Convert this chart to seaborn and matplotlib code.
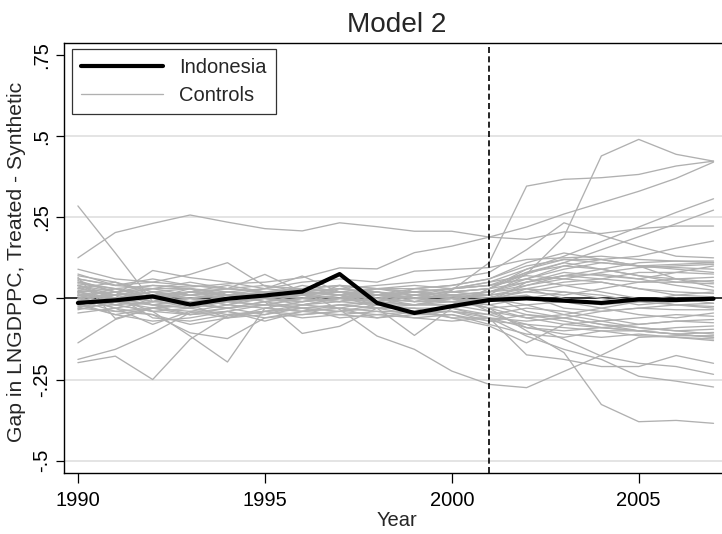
import numpy as np
import pandas as pd
import matplotlib
matplotlib.use("Agg")
import matplotlib.pyplot as plt
from matplotlib.lines import Line2D
import seaborn as sns

years = list(range(1990, 2008))

indonesia = [-0.014, -0.006, 0.006, -0.019, -0.001, 0.009, 0.021, 0.075, -0.014,
             -0.045, -0.024, -0.005, 0.000, -0.007, -0.014, -0.003, -0.005, -0.001]

c01 = [0.125, 0.203, 0.231, 0.257, 0.235, 0.215, 0.208, 0.233, 0.221, 0.207, 0.207, 0.189, 0.182, 0.205, 0.200, 0.215, 0.223, 0.223]
c02 = [0.285, 0.140, -0.010, 0.020, 0.010, 0.000, 0.015, 0.020, 0.000, -0.010, 0.000, 0.020, 0.030, 0.000, -0.020, -0.010, 0.000, -0.015]
c03 = [0.050, 0.030, 0.040, 0.035, 0.045, 0.050, 0.064, 0.094, 0.091, 0.141, 0.161, 0.189, 0.220, 0.260, 0.295, 0.330, 0.370, 0.420]
c04 = [0.020, 0.000, -0.020, -0.010, 0.000, 0.010, 0.000, 0.020, 0.010, 0.000, 0.005, 0.010, 0.075, 0.190, 0.439, 0.490, 0.444, 0.423]
c05 = [0.000, -0.020, 0.010, 0.000, -0.010, 0.000, 0.010, 0.000, 0.020, 0.000, 0.025, 0.110, 0.346, 0.367, 0.372, 0.382, 0.408, 0.423]
c06 = [0.030, 0.010, 0.020, 0.000, 0.020, 0.030, 0.050, 0.060, 0.050, 0.084, 0.089, 0.095, 0.120, 0.125, 0.130, 0.120, 0.115, 0.110]
c07 = [0.010, 0.020, 0.000, 0.010, 0.020, 0.010, 0.030, 0.020, 0.010, 0.020, 0.030, 0.050, 0.090, 0.130, 0.175, 0.220, 0.265, 0.307]
c08 = [-0.010, 0.000, 0.020, 0.000, 0.010, 0.020, 0.000, 0.010, 0.030, 0.010, 0.020, 0.030, 0.075, 0.110, 0.150, 0.190, 0.230, 0.272]
c09 = [0.040, 0.020, 0.030, 0.050, 0.030, 0.020, 0.030, 0.040, 0.030, 0.030, 0.040, 0.060, 0.100, 0.120, 0.120, 0.130, 0.155, 0.177]
c10 = [0.060, 0.040, 0.060, 0.040, 0.030, 0.040, 0.020, 0.030, 0.040, 0.050, 0.060, 0.080, 0.150, 0.233, 0.195, 0.160, 0.130, 0.125]
c11 = [-0.188, -0.157, -0.106, -0.044, -0.030, -0.010, 0.000, -0.010, 0.010, 0.000, -0.010, 0.000, 0.040, 0.070, 0.090, 0.110, 0.115, 0.115]
c12 = [-0.198, -0.178, -0.250, -0.126, -0.054, -0.040, -0.020, 0.000, -0.010, 0.010, 0.020, 0.030, 0.090, 0.120, 0.110, 0.100, 0.105, 0.110]
c13 = [-0.137, -0.065, -0.030, -0.020, 0.000, 0.020, 0.010, 0.020, 0.000, 0.020, 0.030, 0.050, 0.070, 0.060, 0.080, 0.095, 0.100, 0.105]
c14 = [0.010, -0.020, -0.040, -0.116, -0.196, -0.030, -0.010, 0.000, -0.020, 0.000, 0.010, 0.020, 0.060, 0.090, 0.110, 0.100, 0.095, 0.090]
c15 = [0.000, -0.030, -0.050, -0.106, -0.124, -0.060, -0.040, -0.030, -0.010, -0.020, 0.000, 0.010, 0.030, 0.050, 0.060, 0.080, 0.080, 0.075]
c16 = [0.020, 0.000, -0.020, 0.000, 0.010, -0.010, -0.108, -0.086, -0.030, -0.020, 0.000, 0.010, 0.020, 0.010, 0.030, 0.050, 0.060, 0.065]
c17 = [0.000, 0.010, -0.010, 0.000, -0.020, 0.000, -0.010, 0.010, -0.030, -0.114, -0.030, -0.010, 0.050, 0.070, 0.060, 0.050, 0.050, 0.055]
c18 = [-0.010, 0.000, 0.010, -0.010, 0.000, 0.010, 0.020, -0.034, -0.116, -0.157, -0.224, -0.265, -0.275, -0.225, -0.175, -0.120, -0.115, -0.115]
c19 = [0.060, 0.040, 0.050, 0.074, 0.110, 0.038, 0.030, 0.040, 0.030, 0.040, 0.030, 0.040, 0.080, 0.110, 0.090, 0.070, 0.050, 0.045]
c20 = [0.040, 0.010, 0.086, 0.064, 0.050, 0.030, 0.069, 0.020, 0.030, 0.020, 0.030, 0.040, 0.060, 0.100, 0.120, 0.100, 0.060, 0.035]
c21 = [0.030, 0.050, 0.020, 0.010, 0.030, 0.074, 0.020, 0.030, 0.010, 0.030, 0.020, 0.030, 0.050, 0.070, 0.075, 0.060, 0.040, 0.025]
c22 = [0.070, 0.050, 0.010, 0.020, 0.000, 0.010, 0.020, 0.010, 0.020, 0.000, 0.010, 0.020, 0.040, 0.060, 0.050, 0.030, 0.020, 0.015]
c23 = [0.090, 0.060, 0.050, 0.040, 0.030, 0.020, 0.010, 0.020, 0.010, 0.000, 0.010, 0.000, 0.020, 0.040, 0.050, 0.030, 0.010, 0.005]
c24 = [0.075, 0.040, 0.030, 0.030, 0.020, 0.010, 0.020, 0.010, 0.000, 0.010, 0.000, -0.010, 0.030, 0.020, 0.000, -0.020, -0.010, -0.005]
c25 = [0.065, -0.062, -0.030, -0.020, -0.010, 0.000, -0.010, 0.000, 0.010, 0.000, 0.010, 0.000, 0.010, -0.030, -0.040, -0.030, -0.020, -0.015]
c26 = [0.055, 0.020, -0.020, -0.030, -0.010, -0.020, 0.000, -0.010, 0.000, -0.010, -0.010, -0.020, 0.000, 0.020, 0.010, -0.010, -0.020, -0.025]
c27 = [0.045, 0.030, 0.000, 0.020, 0.010, 0.000, -0.010, 0.000, -0.010, 0.010, 0.000, -0.020, -0.050, -0.060, -0.040, -0.030, -0.035, -0.035]
c28 = [0.035, 0.000, -0.040, -0.050, -0.040, -0.020, -0.020, -0.010, -0.020, -0.020, -0.010, -0.030, -0.020, -0.010, -0.030, -0.050, -0.060, -0.045]
c29 = [0.025, 0.010, -0.060, -0.070, -0.050, -0.040, -0.030, -0.020, -0.010, -0.020, -0.020, -0.040, -0.060, -0.080, -0.070, -0.060, -0.050, -0.055]
c30 = [0.015, -0.010, -0.030, -0.010, -0.030, -0.050, -0.030, -0.020, -0.030, -0.030, -0.030, -0.050, -0.030, -0.040, -0.060, -0.080, -0.070, -0.065]
c31 = [0.005, -0.030, -0.080, -0.040, -0.060, -0.030, -0.040, -0.030, -0.040, -0.040, -0.040, -0.060, -0.090, -0.100, -0.090, -0.080, -0.070, -0.075]
c32 = [-0.005, -0.040, -0.050, -0.080, -0.060, -0.040, -0.050, -0.040, -0.030, -0.050, -0.050, -0.070, -0.050, -0.070, -0.090, -0.100, -0.090, -0.085]
c33 = [-0.015, -0.050, -0.070, -0.060, -0.040, -0.070, -0.040, -0.050, -0.060, -0.040, -0.030, -0.060, -0.070, -0.060, -0.080, -0.090, -0.100, -0.095]
c34 = [-0.025, -0.020, -0.040, -0.030, -0.050, -0.040, -0.060, -0.050, -0.040, -0.060, -0.050, -0.080, -0.110, -0.120, -0.100, -0.100, -0.110, -0.105]
c35 = [-0.035, -0.010, -0.020, -0.050, -0.030, -0.020, -0.030, -0.060, -0.050, -0.040, -0.060, -0.085, -0.137, -0.080, -0.090, -0.100, -0.110, -0.120]
c36 = [-0.045, -0.030, -0.010, -0.020, -0.060, -0.050, -0.020, -0.030, -0.060, -0.050, -0.040, -0.070, -0.080, -0.090, -0.100, -0.115, -0.120, -0.125]
c37 = [-0.030, -0.040, -0.030, -0.040, -0.020, -0.030, -0.040, -0.020, -0.030, -0.030, -0.060, -0.060, -0.174, -0.188, -0.210, -0.210, -0.176, -0.200]
c38 = [0.020, -0.010, 0.000, -0.020, -0.030, -0.010, -0.030, -0.040, -0.020, -0.040, -0.040, -0.050, -0.080, -0.126, -0.178, -0.200, -0.210, -0.234]
c39 = [-0.020, -0.050, -0.030, -0.050, -0.040, -0.060, -0.050, -0.040, -0.050, -0.060, -0.070, -0.060, -0.116, -0.157, -0.188, -0.240, -0.255, -0.273]
c40 = [0.010, 0.000, 0.020, 0.030, 0.010, 0.000, 0.010, 0.000, 0.010, 0.020, 0.000, -0.030, -0.100, -0.167, -0.327, -0.380, -0.376, -0.385]
c41 = [0.020, 0.030, 0.010, 0.020, 0.030, 0.020, 0.010, 0.000, 0.010, 0.020, 0.010, 0.020, 0.050, 0.080, 0.070, 0.060, 0.080, 0.100]
c42 = [-0.020, 0.010, 0.030, 0.010, 0.000, 0.020, 0.030, 0.020, 0.010, 0.000, -0.010, 0.000, -0.020, -0.050, -0.070, -0.090, -0.100, -0.110]
c43 = [0.010, -0.020, -0.010, 0.020, 0.040, 0.020, 0.000, -0.010, 0.020, 0.010, 0.030, 0.040, 0.060, 0.040, 0.020, 0.000, -0.020, -0.030]
c44 = [-0.010, 0.020, 0.040, 0.030, 0.010, -0.010, 0.010, 0.030, 0.020, -0.010, 0.020, 0.010, -0.040, -0.060, -0.080, -0.100, -0.110, -0.120]
c45 = [0.040, 0.000, 0.020, -0.020, 0.010, 0.030, 0.020, 0.010, -0.020, 0.010, 0.000, -0.030, -0.060, -0.050, -0.030, -0.010, 0.010, 0.020]
c46 = [0.000, 0.030, 0.000, 0.030, -0.010, -0.020, 0.000, 0.040, 0.000, -0.020, -0.020, 0.030, 0.080, 0.100, 0.090, 0.070, 0.060, 0.050]
c47 = [-0.030, 0.000, 0.010, -0.030, 0.020, 0.000, -0.020, 0.000, 0.030, 0.020, 0.010, -0.040, -0.090, -0.110, -0.120, -0.110, -0.120, -0.130]
c48 = [0.050, 0.020, -0.010, 0.000, -0.020, 0.010, 0.040, 0.020, -0.010, 0.030, 0.040, 0.060, 0.110, 0.140, 0.120, 0.100, 0.090, 0.080]

controls = [c01, c02, c03, c04, c05, c06, c07, c08, c09, c10, c11, c12, c13, c14,
            c15, c16, c17, c18, c19, c20, c21, c22, c23, c24, c25, c26, c27, c28,
            c29, c30, c31, c32, c33, c34, c35, c36, c37, c38, c39, c40, c41, c42,
            c43, c44, c45, c46, c47, c48]

y_ticks = [-0.5, -0.25, 0, 0.25, 0.5, 0.75]
y_tick_labels = ["-.5", "-.25", "0", ".25", ".5", ".75"]
x_ticks = [1990, 1995, 2000, 2005]
x_tick_labels = ["1990", "1995", "2000", "2005"]
treat_year = 2001

sns.set_style("white")
plt.rcParams["font.family"] = ["Liberation Sans", "DejaVu Sans"]

rows = []
for i, s in enumerate(controls):
    for yr, v in zip(years, s):
        rows.append({"unit": f"c{i+1}", "year": yr, "gap": v})
df_c = pd.DataFrame(rows)
df_t = pd.DataFrame({"year": years, "gap": indonesia})

W, H = 722, 534
fig = plt.figure(figsize=(W / 100, H / 100), dpi=100)
ax_l, ax_r, ax_t, ax_b = 64.3, 729.0, 42.7, 473.3
ax = fig.add_axes([ax_l / W, 1 - ax_b / H, (ax_r - ax_l) / W, (ax_b - ax_t) / H])

grey = "#b0b0b0"
for g in [0.5, 0.25, -0.25, -0.5]:
    ax.axhline(g, color="#dcdcdc", lw=1.1, zorder=0)
ax.axhline(0, color="black", lw=1.1, zorder=1)

sns.lineplot(data=df_c, x="year", y="gap", units="unit", estimator=None,
             color=grey, lw=0.95, legend=False, ax=ax, zorder=2)
sns.lineplot(data=df_t, x="year", y="gap", color="black", lw=3.0,
             legend=False, ax=ax, zorder=4)
ax.axvline(treat_year, color="black", lw=1.2, ls=(0, (3.6, 2.0)), zorder=5)

ax.set_xlim(1989.636, 2007.414)
ax.set_ylim(-0.539, 0.788)
ax.set_xticks(x_ticks)
ax.set_xticklabels(x_tick_labels, fontsize=14.5)
ax.set_yticks(y_ticks)
ax.set_yticklabels(y_tick_labels, fontsize=14.5, rotation=90, va="center")
ax.tick_params(axis="x", direction="out", length=7, width=0.9, pad=6, colors="black", bottom=True)
ax.tick_params(axis="y", direction="out", length=5.5, width=0.9, pad=4, colors="black", left=True)

for side in ["left", "bottom", "top"]:
    ax.spines[side].set_visible(True)
    ax.spines[side].set_color("black")
    ax.spines[side].set_linewidth(1.0)
ax.spines["right"].set_visible(False)

ax.set_xlabel("Year", fontsize=14.5)
ax.xaxis.label.set_va("baseline")
ax.xaxis.set_label_coords(0.5, (ax_b - 526) / (ax_b - ax_t))
ax.set_ylabel("Gap in LNGDPPC, Treated - Synthetic", fontsize=15.2)
ax.yaxis.label.set_va("center")
ax.yaxis.set_label_coords((16.7 - ax_l) / (ax_r - ax_l), (ax_b - 261.5) / (ax_b - ax_t))

fig.text(396.7 / W, 1 - 32 / H, "Model 2", ha="center", va="baseline", fontsize=20.2)

handles = [Line2D([], [], color="black", lw=3.0),
           Line2D([], [], color=grey, lw=0.95)]
leg = ax.legend(handles, ["Indonesia", "Controls"], loc="upper left",
                bbox_to_anchor=(71.7 / W, 1 - 49.3 / H), bbox_transform=fig.transFigure,
                borderaxespad=0, fontsize=14.5, handlelength=4.1, handletextpad=0.8,
                borderpad=0.45, labelspacing=0.45, frameon=True, fancybox=False)
leg.get_frame().set_edgecolor("black")
leg.get_frame().set_linewidth(0.9)

fig.savefig("out.png", dpi=100)
